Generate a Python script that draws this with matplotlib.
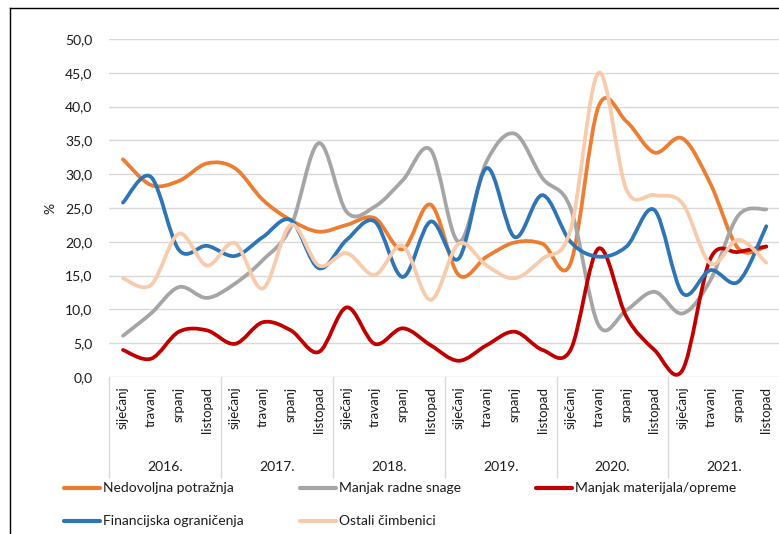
import numpy as np
import matplotlib
matplotlib.use("Agg")
import matplotlib.pyplot as plt
from matplotlib.path import Path
from matplotlib.patches import PathPatch
from matplotlib.lines import Line2D
import matplotlib.transforms as mtransforms

plt.rcParams['font.family'] = ['Lato', 'DejaVu Sans']

# categories
months = ['siječanj', 'travanj', 'srpanj', 'listopad']
years = ['2016.', '2017.', '2018.', '2019.', '2020.', '2021.']

# series values (%)
nedovoljna = [32.2, 28.4, 29.0, 31.6, 30.9, 26.2, 23.2, 21.5, 22.5, 23.5, 18.9, 25.5,
              15.1, 17.8, 19.9, 19.7, 16.8, 40.0, 37.8, 33.2, 35.3, 28.6, 19.0, 19.3]
radne_snage = [6.1, 9.4, 13.3, 11.7, 13.8, 17.3, 22.2, 34.6, 24.4, 25.2, 29.1, 33.6,
               20.0, 31.9, 36.0, 29.4, 25.0, 7.7, 9.9, 12.6, 9.4, 14.3, 23.9, 24.8]
materijal = [4.0, 2.7, 6.7, 6.9, 4.9, 8.1, 6.9, 3.7, 10.3, 4.9, 7.2, 4.7,
             2.4, 4.7, 6.7, 4.0, 4.0, 19.0, 8.9, 4.0, 1.0, 17.5, 18.5, 19.3]
financijska = [25.8, 29.6, 18.8, 19.4, 17.9, 20.7, 23.2, 16.1, 20.3, 23.0, 14.8, 23.0,
               17.5, 30.9, 20.7, 26.9, 20.0, 17.8, 19.3, 24.7, 12.4, 15.8, 14.1, 22.3]
ostali = [14.6, 13.6, 21.2, 16.5, 19.8, 13.1, 22.5, 16.5, 18.3, 15.1, 19.4, 11.4,
          19.7, 16.5, 14.6, 17.5, 21.7, 45.0, 27.7, 26.9, 25.7, 16.8, 20.3, 16.9]

series = [
    ('Nedovoljna potražnja', nedovoljna, '#ED7D31'),
    ('Manjak radne snage', radne_snage, '#A5A5A5'),
    ('Manjak materijala/opreme', materijal, '#C00000'),
    ('Financijska ograničenja', financijska, '#2E75B6'),
    ('Ostali čimbenici', ostali, '#F8CBAD'),
]

TEXT = '#1a1a1a'
GRID = '#D9D9D9'
W, H = 779, 534


def smooth_path(vals):
    # Excel-like smoothed line: cubic Bezier through each point
    pts = np.column_stack([np.arange(len(vals)), np.asarray(vals, float)])
    n = len(pts)
    verts = [pts[0]]
    codes = [Path.MOVETO]
    for i in range(n - 1):
        p0 = pts[i - 1] if i > 0 else pts[i]
        p1, p2 = pts[i], pts[i + 1]
        p3 = pts[i + 2] if i + 2 < n else pts[i + 1]
        verts += [p1 + (p2 - p0) / 6, p2 - (p3 - p1) / 6, p2]
        codes += [Path.CURVE4] * 3
    return Path(verts, codes)


fig = plt.figure(figsize=(W / 100, H / 100), dpi=100)
left, right, top, bottom = 109, 780.3, 39, 377
ax = fig.add_axes([left / W, 1 - bottom / H, (right - left) / W, (bottom - top) / H])

n = len(nedovoljna)
ax.set_xlim(-0.5, n - 0.5)
ax.set_ylim(0, 50)

for name, vals, color in series:
    ax.add_patch(PathPatch(smooth_path(vals), fill=False, edgecolor=color, lw=2.7,
                           capstyle='round', joinstyle='round', zorder=3))

# y axis
ax.set_yticks(np.arange(0, 50.1, 5))
ax.set_yticklabels([f'{v:.1f}'.replace('.', ',') for v in np.arange(0, 50.1, 5)],
                   fontsize=10, color=TEXT)
ax.yaxis.grid(True, color=GRID, lw=1)
ax.set_axisbelow(True)
ax.tick_params(axis='y', length=0, pad=12)
for s in ax.spines.values():
    s.set_visible(False)

# x axis: months rotated, years below, group separators
ax.set_xticks(range(n))
ax.set_xticklabels(months * len(years), rotation=90, fontsize=9.5, color=TEXT)
ax.tick_params(axis='x', length=0, pad=7)
trans = mtransforms.blended_transform_factory(ax.transData, ax.transAxes)
sep_low = -(477 - bottom) / (bottom - top)
for k in range(len(years) + 1):
    ax.plot([4 * k - 0.5] * 2, [0, sep_low], transform=trans, color=GRID, lw=1,
            clip_on=False)
for k, yr in enumerate(years):
    ax.text(4 * k + 1.5, -(467 - bottom) / (bottom - top), yr, transform=trans,
            ha='center', va='center', fontsize=10, color=TEXT)

fig.text(50 / W, 1 - 208 / H, '%', rotation=90, ha='center', va='center',
         fontsize=10, color=TEXT)

# legend, laid out like the reference (two rows)
legend_pos = [(64, 488), (300, 488), (536, 488), (64, 521), (300, 521)]
for (name, vals, color), (lx, ly) in zip(series, legend_pos):
    fy = 1 - ly / H
    fig.add_artist(Line2D([lx / W, (lx + 36) / W], [fy, fy], color=color, lw=3,
                          solid_capstyle='round'))
    fig.text((lx + 39) / W, fy, name, ha='left', va='center', fontsize=10, color=TEXT)

# outer frame (left and top edges visible)
fig.add_artist(Line2D([10 / W, 10 / W], [0, 1 - 8 / H], color='black', lw=1))
fig.add_artist(Line2D([10 / W, 1], [1 - 8 / H, 1 - 8 / H], color='black', lw=1))

fig.savefig('out.png', dpi=100)
